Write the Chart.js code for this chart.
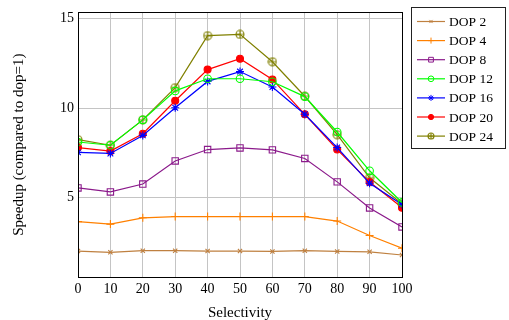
<!DOCTYPE html>
<html>
<head>
<meta charset="utf-8">
<script src="https://cdn.jsdelivr.net/npm/chart.js@4.4.1/dist/chart.umd.min.js"></script>
<style>
  html, body { margin: 0; padding: 0; background: #fff; }
  #wrap { width: 509px; height: 320px; }
</style>
</head>
<body>
<div id="wrap"><canvas id="speedupChart" width="509" height="320"></canvas></div>
<script>
// data
var selectivity = [0, 10, 20, 30, 40, 50, 60, 70, 80, 90, 100];
var yTicks = [5, 10, 15];
var dop2  = [2.0, 1.93, 2.02, 2.02, 2.0, 2.0, 1.98, 2.02, 1.98, 1.96, 1.78];
var dop4  = [3.65, 3.51, 3.86, 3.93, 3.93, 3.93, 3.93, 3.93, 3.68, 2.87, 2.16];
var dop8  = [5.53, 5.31, 5.75, 7.04, 7.68, 7.77, 7.66, 7.18, 5.87, 4.41, 3.35];
var dop12 = [8.1, 7.92, 9.34, 10.96, 11.64, 11.64, 11.47, 10.64, 8.66, 6.49, 4.72];
var dop16 = [7.52, 7.46, 8.47, 10.02, 11.49, 12.04, 11.18, 9.65, 7.79, 5.79, 4.61];
var dop20 = [7.79, 7.59, 8.56, 10.41, 12.15, 12.76, 11.6, 9.65, 7.68, 5.86, 4.43];
var dop24 = [8.23, 7.92, 9.34, 11.14, 14.05, 14.12, 12.59, 10.66, 8.51, 6.1, 4.65];

var FONT = '"Liberation Serif", "DejaVu Serif", serif';

// circle with a plus inside (pgfplots oplus mark)
function oplusMark(color, size) {
  var c = document.createElement('canvas');
  c.width = size; c.height = size;
  var g = c.getContext('2d');
  var h = size / 2, r = h - 1;
  g.strokeStyle = color;
  g.lineWidth = 1.1;
  g.beginPath(); g.arc(h, h, r, 0, Math.PI * 2); g.stroke();
  g.beginPath();
  g.moveTo(h - r, h); g.lineTo(h + r, h);
  g.moveTo(h, h - r); g.lineTo(h, h + r);
  g.stroke();
  return c;
}

function series(label, data, color, style, radius, fill) {
  return {
    label: label,
    data: data.map(function(v, i) { return { x: selectivity[i], y: v }; }),
    borderColor: color,
    backgroundColor: fill ? color : 'rgba(0,0,0,0)',
    pointBorderColor: color,
    pointBackgroundColor: fill ? color : 'rgba(0,0,0,0)',
    pointStyle: style,
    pointRadius: radius,
    pointBorderWidth: 1.1,
    borderWidth: 1.2,
    tension: 0,
    fill: false
  };
}

var legendMarks = [null, null, null, null, null, null, oplusMark('#808000', 8)];

var frame = {
  id: 'frame',
  afterDraw: function(chart) {
    var ctx = chart.ctx, a = chart.chartArea;
    ctx.save();
    ctx.strokeStyle = '#000';
    ctx.lineWidth = 1;
    ctx.strokeRect(Math.round(a.left) + 0.5, Math.round(a.top) + 0.5,
      Math.round(a.right - a.left), Math.round(a.bottom - a.top));

    // legend box
    var bx = 411.5, by = 7.5, bw = 94, bh = 141;
    ctx.strokeStyle = '#222';
    ctx.strokeRect(bx, by, bw, bh);
    ctx.font = '13.5px ' + FONT;
    ctx.textBaseline = 'middle';
    chart.data.datasets.forEach(function(ds, i) {
      var y = 21.5 + i * 19.1;
      ctx.strokeStyle = ds.borderColor;
      ctx.lineWidth = 1.2;
      ctx.beginPath(); ctx.moveTo(417, y); ctx.lineTo(445, y); ctx.stroke();
      ctx.fillStyle = ds.pointBackgroundColor;
      ctx.strokeStyle = ds.pointBorderColor;
      ctx.lineWidth = 1;
      Chart.helpers.drawPoint(ctx, {
        pointStyle: legendMarks[i] || ds.pointStyle,
        radius: ds.pointRadius * 0.75,
        borderWidth: 1
      }, 431, y);
      ctx.fillStyle = '#000';
      ctx.fillText(ds.label, 449, y + 1);
    });
    ctx.restore();
  }
};

var ctx = document.getElementById('speedupChart').getContext('2d');
var chart = new Chart(ctx, {
  type: 'line',
  data: {
    datasets: [
      series('DOP 2', dop2, '#bf8040', 'crossRot', 3, false),
      series('DOP 4', dop4, '#ff8000', 'cross', 4, false),
      series('DOP 8', dop8, '#8b1a8b', 'rect', 4.5, false),
      series('DOP 12', dop12, '#00ff00', 'circle', 3.8, false),
      series('DOP 16', dop16, '#0000ff', 'star', 4, false),
      series('DOP 20', dop20, '#ff0000', 'circle', 3.5, true),
      series('DOP 24', dop24, '#808000', oplusMark('#808000', 10), 5, false)
    ]
  },
  options: {
    responsive: false,
    animation: false,
    layout: { padding: { left: 0, right: 107, top: 9, bottom: 0 } },
    plugins: {
      legend: { display: false },
      tooltip: { enabled: false }
    },
    scales: {
      x: {
        type: 'linear',
        min: 0,
        max: 100,
        ticks: { stepSize: 10, color: '#000', font: { family: FONT, size: 14 }, padding: 4, maxRotation: 0 },
        grid: { color: '#c4c4c4', lineWidth: 1, drawTicks: false },
        border: { display: false },
        title: { display: true, text: 'Selectivity', color: '#000', font: { family: FONT, size: 15 }, padding: { top: 0, bottom: -2 } },
        afterFit: function(s) { s.height = 43; }
      },
      y: {
        min: 0.55,
        max: 15.35,
        afterBuildTicks: function(s) { s.ticks = yTicks.map(function(v) { return { value: v }; }); },
        ticks: { color: '#000', font: { family: FONT, size: 14 }, padding: 4 },
        grid: { color: '#c4c4c4', lineWidth: 1, drawTicks: false },
        border: { display: false },
        title: { display: true, text: 'Speedup (compared to dop=1)', color: '#000', font: { family: FONT, size: 15 }, padding: { top: 10.5, bottom: 0 } },
        afterFit: function(s) { s.width = 78; }
      }
    }
  },
  plugins: [frame]
});
</script>
</body>
</html>
